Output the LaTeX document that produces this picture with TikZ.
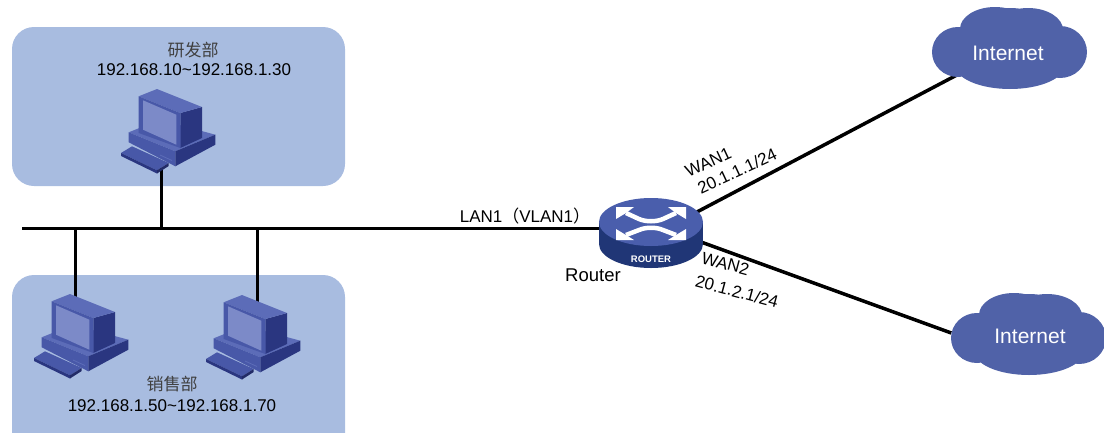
\documentclass[tikz,border=0pt]{standalone}
\usepackage{fontspec}
\setmainfont{Liberation Sans}
\newfontfamily\cjk{Noto Sans CJK SC}
\usetikzlibrary{arrows.meta}

\definecolor{zonefill}{RGB}{168,188,224}
\definecolor{cloudfill}{RGB}{80,98,168}
\definecolor{pclight}{RGB}{92,108,184}
\definecolor{pcmid}{RGB}{72,88,168}
\definecolor{pcdark}{RGB}{42,54,128}
\definecolor{pcscreen}{RGB}{124,138,200}
\definecolor{rtop}{RGB}{74,94,172}
\definecolor{rside}{RGB}{32,54,118}
\definecolor{cjkgray}{RGB}{64,64,64}

\tikzset{
  zone/.style={fill=zonefill, rounded corners=22pt},
  wire/.style={line width=3pt, black},
  uplink/.style={line width=3.5pt, black},
  lbl/.style={font=\fontsize{17}{20}\selectfont, inner sep=0pt},
  portlbl/.style={inner sep=0pt, align=left},
  dept/.style={font=\cjk\fontsize{17}{20}\selectfont, text=cjkgray, inner sep=0pt},
  slot/.style={inner sep=0pt, minimum width=#1, minimum height=12pt},
  inettext/.style={font=\fontsize{21}{24}\selectfont, text=white, inner sep=0pt},
  shaft/.style={white, line width=4.5pt},
  % desktop computer, origin at the top left corner of the icon
  pc/.pic={
    % keyboard
    \fill[pcmid] (1,66) -- (12,59.3) -- (48.7,76) -- (37,83.3) -- cycle;
    \fill[pcdark] (1,66) -- (37,83.3) -- (37,86.5) -- (1,69) -- cycle;
    \fill[pcdark!80!black] (37,83.3) -- (48.7,76) -- (48.7,79) -- (37,86.5) -- cycle;
    % system unit
    \fill[pclight] (8.7,45.3) -- (40,32.7) -- (95.3,47.7) -- (55.3,64.3) -- cycle;
    \fill[pcmid] (8.7,45.3) -- (55.3,64.3) -- (55.3,79.3) -- (8.7,55.3) -- cycle;
    \fill[pcdark] (55.3,64.3) -- (95.3,47.7) -- (95.3,57.7) -- (55.3,79.3) -- cycle;
    \draw[pclight, line width=0.8pt] (40,68) -- (52,73.5);
    % monitor
    \fill[pcdark] (60.3,26) -- (82,20) -- (82,51) -- (60.3,61) -- cycle;
    \fill[pclight] (18.7,9.3) -- (37,2) -- (82,20) -- (60.3,26) -- cycle;
    \fill[pcmid] (18.7,9.3) -- (60.3,26) -- (60.3,61) -- (18.7,46) -- cycle;
    \fill[pcscreen] (23,13.3) -- (56.3,27.7) -- (56.3,57.7) -- (23,42.7) -- cycle;
  },
  % router cylinder, origin at the centre of its top face
  routericon/.pic={
    \fill[rside] (0,22) ellipse[x radius=52, y radius=24];
    \fill[rside] (-52,0) rectangle (52,22);
    \fill[rtop] (0,0) ellipse[x radius=52, y radius=24];
    % upper pair of arrows
    \draw[shaft] (-25,-9) -- (-12,-3) .. controls (-5,0) and (5,0) .. (12,-3) -- (25,-9);
    \fill[white] (-35,-15) -- (-17,-15) -- (-25,-9) -- (-35,-3) -- cycle;
    \fill[white] (35,-15) -- (17,-15) -- (25,-9) -- (35,-3) -- cycle;
    % lower pair of arrows
    \draw[shaft] (-25,13) -- (-12,8) .. controls (-5,5) and (5,5) .. (12,8) -- (25,13);
    \fill[white] (-35,18) -- (-17,18) -- (-25,13) -- (-35,7) -- cycle;
    \fill[white] (35,18) -- (17,18) -- (25,13) -- (35,7) -- cycle;
    \node[white, inner sep=0pt, font=\bfseries\fontsize{9.5}{10}\selectfont] at (0,37) {ROUTER};
  },
  % cloud, origin at its centre
  cloudshape/.pic={
    \fill[cloudfill] (-15,-18) ellipse[x radius=35, y radius=22]
      (18,-17) ellipse[x radius=35, y radius=22]
      (0,-14) ellipse[x radius=42, y radius=25]
      (-52,5) ellipse[x radius=26, y radius=25]
      (50,5) ellipse[x radius=27, y radius=26]
      (0,18) ellipse[x radius=55, y radius=24]
      (0,2) ellipse[x radius=60, y radius=30];
  },
}

\begin{document}
\begin{tikzpicture}[x=1pt, y=-1pt]
  \useasboundingbox (0,0) rectangle (1104,432);
  \clip (0,0) rectangle (1104,432);

  % department zones
  \fill[zone] (12,27) rectangle (345,186);
  \fill[zone] (12,275) rectangle (345,470);

  % anchor nodes
  \node[slot=104pt] (router) at (651,230) {};
  \node[slot=155pt, minimum height=82pt] (inet1) at (1010,47) {};
  \node[slot=155pt, minimum height=82pt] (inet2) at (1029,333) {};
  \coordinate (busend) at (22,228.5);
  \coordinate (portA) at (161,168);
  \coordinate (portB) at (75,305);
  \coordinate (portC) at (257,305);

  % cabling
  \draw[wire] (busend) -- (busend -| router.west);
  \draw[wire] (portA) -- (portA |- busend);
  \draw[wire] (portB) -- (portB |- busend);
  \draw[wire] (portC) -- (portC |- busend);
  \draw[uplink] (router.south) -- (inet1.center);
  \draw[uplink] (router.north) -- (inet2.west);

  % devices
  \pic at (120,87) {pc};
  \pic at (33,292) {pc};
  \pic at (205,293) {pc};
  \pic at (651,222) {routericon};
  \pic at (1010,47) {cloudshape};
  \pic at (1029,333) {cloudshape};

  % labels
  \node[inettext] (inet1txt) at (1008,53) {Internet};
  \node[inettext] (inet2txt) at (1030,336) {Internet};
  \node[dept] (deptA) at (193,50) {研发部};
  \node[lbl] (rangeA) at (194,70) {192.168.10\textasciitilde192.168.1.30};
  \node[dept] (deptB) at (172,384) {销售部};
  \node[lbl] (rangeB) at (172,406) {192.168.1.50\textasciitilde192.168.1.70};
  \node[lbl] (lanlbl) at (525,216) {LAN1{\cjk （}VLAN1{\cjk ）}};
  \node[lbl, font=\fontsize{18.5}{22}\selectfont] (routerlbl) at (593,275) {Router};
  \node[portlbl, font=\fontsize{17}{20.7}\selectfont, rotate=25] (wan1lbl) at (731,163)
    {WAN1\\\hspace*{4pt}20.1.1.1/24};
  \node[portlbl, font=\fontsize{17}{24}\selectfont, rotate=-15] (wan2lbl) at (740,280)
    {WAN2\\20.1.2.1/24};
\end{tikzpicture}
\end{document}
